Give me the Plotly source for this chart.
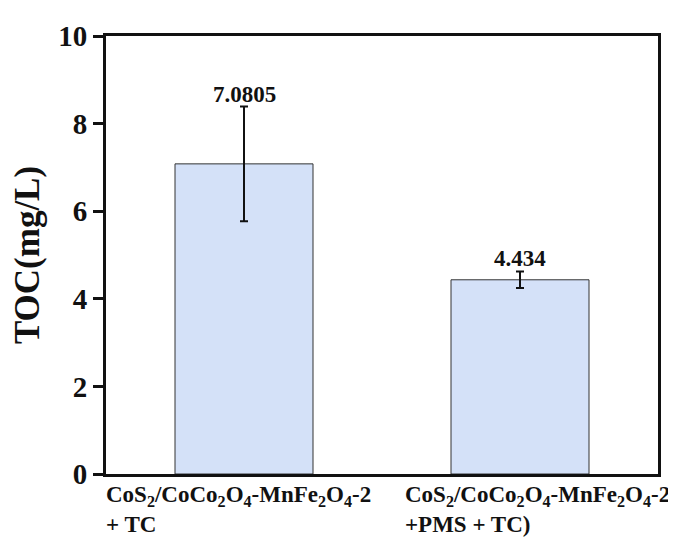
import plotly.graph_objects as go

categories = ["cat1", "cat2"]
toc_values = [7.0805, 4.434]
toc_errors = [1.31, 0.19]
value_labels = ["7.0805", "4.434"]
tick_labels = [
    "CoS<sub>2</sub>/CoCo<sub>2</sub>O<sub>4</sub>-MnFe<sub>2</sub>O<sub>4</sub>-2<br>+ TC",
    "CoS<sub>2</sub>/CoCo<sub>2</sub>O<sub>4</sub>-MnFe<sub>2</sub>O<sub>4</sub>-2<br>+PMS + TC)",
]
y_ticks = [0, 2, 4, 6, 8, 10]

FONT = "Liberation Serif"
label_shifts = [-140, -117]

x_idx = list(range(len(categories)))

fig = go.Figure()
fig.add_trace(go.Bar(
    x=x_idx, y=toc_values, width=0.5,
    marker=dict(color="#D4E1F8", line=dict(color="#333333", width=1)),
    error_y=dict(type="data", array=toc_errors, visible=True,
                 color="#111111", thickness=2, width=4),
))

for i, (v, e, t) in enumerate(zip(toc_values, toc_errors, value_labels)):
    fig.add_annotation(x=x_idx[i], y=v + e, text="<b>" + t + "</b>", showarrow=False,
                       yanchor="bottom", yshift=-2,
                       font=dict(family=FONT, size=23, color="#111111"))

for i, lab in enumerate(tick_labels):
    fig.add_annotation(x=x_idx[i], y=0, yref="y", text="<b>" + lab.replace("<br>", "</b><br><b>") + "</b>",
                       showarrow=False,
                       xanchor="left", yanchor="top", align="left",
                       xshift=label_shifts[i], yshift=-6,
                       font=dict(family=FONT, size=23, color="#111111"))

fig.update_layout(
    width=668, height=537,
    margin=dict(l=92, r=18, t=18, b=71),
    paper_bgcolor="white", plot_bgcolor="white",
    showlegend=False,
    font=dict(family=FONT, color="#111111"),
)
fig.update_xaxes(range=[-0.5, 1.5], showticklabels=False, ticks="",
                 showline=True, linecolor="#111111", linewidth=3, mirror=True,
                 showgrid=False, zeroline=False)
fig.update_yaxes(range=[0, 10], tickvals=y_ticks,
                 ticktext=["<b>%d</b>" % v for v in y_ticks],
                 ticks="outside", ticklen=10,
                 tickwidth=3, tickcolor="#111111",
                 tickfont=dict(family=FONT, size=29, color="#111111"),
                 showline=True, linecolor="#111111", linewidth=3, mirror=True,
                 showgrid=False, zeroline=False,
                 title=dict(text="<b>TOC(mg/L)</b>", standoff=14,
                            font=dict(family=FONT, size=35, color="#111111")))

fig.write_html("out.html")
